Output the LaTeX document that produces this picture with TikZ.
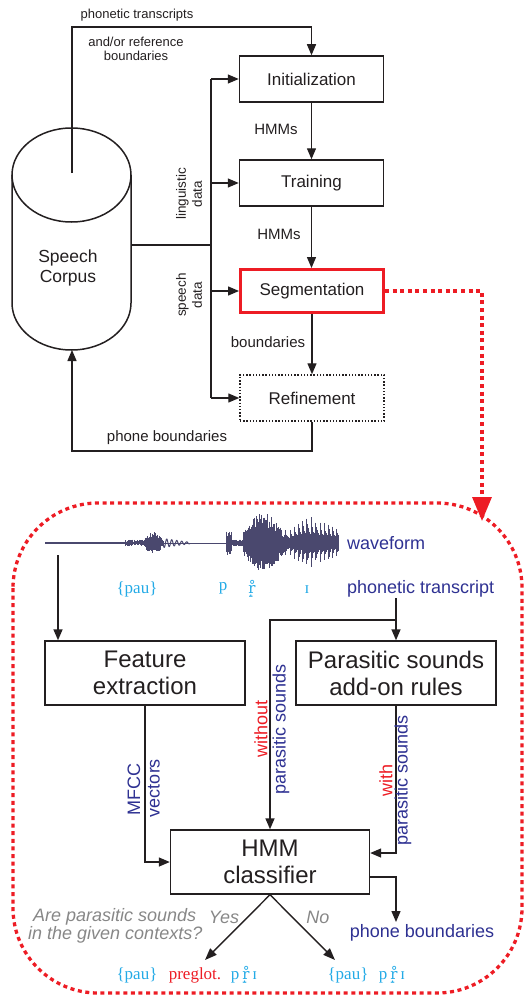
\documentclass[tikz,border=0pt]{standalone}
\usepackage{fontspec}
\setmainfont{Liberation Sans}
\newfontfamily\serfont{Liberation Serif}
\newfontfamily\ipafont{DejaVu Serif}
\usetikzlibrary{arrows.meta,calc}
\definecolor{ink}{RGB}{35,31,32}
\definecolor{tblue}{RGB}{46,49,146}
\definecolor{tred}{RGB}{237,28,36}
\definecolor{tcyan}{RGB}{35,170,230}
\definecolor{tgray}{RGB}{135,135,135}
\definecolor{wfc}{RGB}{74,72,110}
\tikzset{
  box/.style={draw=ink, line width=1.5pt, minimum width=144pt, minimum height=46pt, inner sep=0pt, font=\fontsize{17}{20}\selectfont, text=ink},
  bigbox/.style={draw=ink, line width=1.4pt, minimum width=200pt, minimum height=64pt, inner sep=0pt, align=center, font=\fontsize{24}{27}\selectfont, text=ink},
  ln/.style={draw=ink, line width=1.4pt},
  arr/.style={draw=ink, line width=1.4pt, -{Triangle[length=11pt,width=9pt]}},
  darr/.style={draw=ink, line width=1.4pt, -{Triangle[length=12pt,width=9pt]}},
  reddot/.style={draw=tred, line width=3.3pt, dash pattern=on 4pt off 3.6pt},
  sA/.style={font=\fontsize{13}{14}\selectfont, text=ink, inner sep=0pt, align=center},
  sB/.style={font=\fontsize{15}{17}\selectfont, text=ink, inner sep=0pt, align=center},
  sC/.style={font=\fontsize{17.5}{20}\selectfont, text=ink, inner sep=0pt, align=center},
  bl/.style={font=\fontsize{18}{20}\selectfont, text=tblue, inner sep=0pt},
  rl/.style={font=\fontsize{18}{20}\selectfont, text=tred, inner sep=0pt},
  gl/.style={font=\fontsize{18}{20}\selectfont\itshape, text=tgray, inner sep=0pt},
  ph/.style={font=\serfont\fontsize{17}{20}\selectfont, text=tcyan, inner sep=0pt},
  wf/.style={draw=wfc, line width=0.7pt}
}
\newcommand{\rsym}{{\ipafont\fontsize{15}{18}\selectfont r̝̊}}
\begin{document}
\begin{tikzpicture}[x=1pt,y=-1pt]
\useasboundingbox (0,0) rectangle (530,998);

% ---------- top part ----------
\draw[ink, line width=1.5pt] (71.5,175) ellipse [x radius=59.5, y radius=47];
\draw[ink, line width=1.5pt] (12,175) -- (12,303) arc[start angle=180, end angle=0, x radius=59.5, y radius=47] -- (131,175);
\node[sC] (corpus) at (68,268) {Speech\\Corpus};
\coordinate (cyltop) at (72,173);
\coordinate (cylbot) at (72,350);
\coordinate (cylright) at (131,245);
\coordinate (tpc) at (72,27);
\coordinate (fb) at (72,451);

\node[box] (init) at (311.5,79) {Initialization};
\node[box] (train) at (311.5,183) {Training};
\node[box, draw=tred, line width=3pt, minimum width=143pt, minimum height=43pt] (segm) at (312,291) {Segmentation};
\node[box, dash pattern=on 1.4pt off 1.8pt] (refine) at (312,398) {Refinement};

\coordinate (busT) at (211,79);
\coordinate (busB) at (211,398);
\draw[ln] (busT) -- (busB);
\draw[ln] (cylright) -- (cylright -| busT);
\draw[arr] (busT) -- (init.west);
\draw[arr] (busT |- train.west) -- (train.west);
\draw[arr] (busT |- segm.west) -- (segm.west);
\draw[arr] (busB) -- (refine.west);

\draw[arr] (cyltop) -- (tpc) -| (init.north);
\draw[arr] (init.south) -- (train.north);
\draw[arr] (train.south) -- (train.south |- segm.north);
\draw[arr] (segm.south) -- (segm.south |- refine.north);
\draw[arr] (refine.south) |- (fb) -- (cylbot);

\node[sA] (lpt) at (137,15) {phonetic transcripts};
\node[sA] (lref) at (136,49) {and/or reference\\boundaries};
\node[sB] (lh1) at (276,129) {HMMs};
\node[sB] (lh2) at (279,234) {HMMs};
\node[sB] (lbd) at (268,342) {boundaries};
\node[sB] (lpb) at (167,438) {phone boundaries};
\node[sA, rotate=90, font=\fontsize{13.5}{16}\selectfont] (lling) at (189,194) {linguistic\\data};
\node[sA, rotate=90, font=\fontsize{13.5}{16}\selectfont] (lspd) at (189,295) {speech\\data};

% red dotted link
\coordinate (rc) at (482,291);
\coordinate (rend) at (482,521);
\draw[reddot, -{Triangle[length=24pt,width=19pt]}] (segm.east) -- (rc) -- (rend);

% ---------- bottom part ----------
\draw[reddot, rounded corners=85pt] (13,503) rectangle (522,993);

% waveform
\pgfmathsetseed{11}
\draw[wf, line width=0.8pt] (45,543) -- (338,543);
\draw[wf, line width=2.4pt] (45,543) -- (125,543);
\foreach \x in {125,125.6,...,143} {
  \pgfmathsetmacro\a{1+2.5*rnd}
  \pgfmathsetmacro\b{1+2.5*rnd}
  \draw[wf] (\x,543-\a) -- (\x,543+\b);
}
\foreach \x in {143,143.5,...,163} {
  \pgfmathsetmacro\e{3+8*sin((\x-143)*9)}
  \pgfmathsetmacro\a{\e*(0.5+0.5*rnd)}
  \pgfmathsetmacro\b{\e*(0.5+0.5*rnd)}
  \draw[wf] (\x,543-\a) -- (\x,543+\b);
}
\draw[wf, line width=1pt] plot[domain=163:190, samples=140] (\x,{543+(4.5-0.14*(\x-163))*sin((\x-163)*72)});
\foreach \x in {226,226.5,...,231} {
  \pgfmathsetmacro\a{5+8*rnd}
  \pgfmathsetmacro\b{5+8*rnd}
  \draw[wf] (\x,543-\a) -- (\x,543+\b);
}
\foreach \x in {231.5,232,...,243} {
  \pgfmathsetmacro\a{1.5+2*rnd}
  \pgfmathsetmacro\b{1.5+2*rnd}
  \draw[wf] (\x,543-\a) -- (\x,543+\b);
}
\foreach \x in {243,243.5,...,285} {
  \pgfmathsetmacro\e{8+22*sin((\x-241)*4.1)}
  \pgfmathsetmacro\a{\e*(0.5+0.5*rnd)}
  \pgfmathsetmacro\b{\e*(0.5+0.5*rnd)}
  \draw[wf] (\x,543-\a) -- (\x,543+\b);
}
\foreach \x in {285,285.6,...,338} {
  \pgfmathsetmacro\e{13+13*sin((\x-285)*3.4)}
  \pgfmathsetmacro\p{mod(\x-285,4.3)/4.3}
  \pgfmathsetmacro\a{\e*(0.3+0.7*exp(-3*\p))}
  \pgfmathsetmacro\b{\e*(0.3+0.7*exp(-3*\p))*(0.85+0.15*rnd)}
  \draw[wf, line width=0.6pt] (\x,543-\a) -- (\x,543+\b);
}

\node[bl, anchor=west] (lwave) at (347,543) {waveform};
\node[bl, anchor=west] (ptr) at (347,589) {phonetic transcript};
\node[ph] (ph1) at (137,589) {\{pau\}};
\node[ph] (ph2) at (223,588) {p};
\node[ph, text=tcyan] (ph3) at (252,589) {\rsym};
\node[ph] (ph4) at (307,590) {ɪ};

\node[bigbox] (feat) at (145,673) {Feature\\extraction};
\node[bigbox] (para) at (396,673) {Parasitic sounds\\add-on rules};
\node[bigbox, minimum width=199pt] (hmm) at (270,862) {HMM\\classifier};

\coordinate (wfs) at (58,555);
\coordinate (ptb) at (396,598);
\coordinate (br) at (396,620);
\coordinate (pbout) at (396,922);
\coordinate (yesend) at (205,960);
\coordinate (noend) at (335,960);

\draw[arr] (wfs) -- (wfs |- feat.north);
\draw[arr] (ptb) -- (para.north);
\draw[arr] (br) -| (hmm.north);
\draw[arr] (feat.south) |- (hmm.west);
\draw[arr] (para.south) |- ($(hmm.east)+(0,-9)$);
\draw[arr] ($(hmm.east)+(0,15)$) -| (pbout);
\draw[darr] (hmm.south) -- (yesend);
\draw[darr] (hmm.south) -- (noend);

\node[bl, rotate=90] (lmfcc) at (134,789) {MFCC};
\node[bl, rotate=90] (lvec) at (154,788) {vectors};
\node[rl, rotate=90] (lwo) at (261,729) {without};
\node[bl, rotate=90] (lps1) at (281,729) {parasitic sounds};
\node[rl, rotate=90] (lwi) at (386,780) {with};
\node[bl, rotate=90] (lps2) at (403,780) {parasitic sounds};

\node[gl, anchor=west] (q1) at (33,917) {Are parasitic sounds};
\node[gl, anchor=west] (q2) at (28,935) {in the given contexts?};
\node[gl] (qy) at (224,917) {Yes};
\node[gl] (qn) at (318,917) {No};
\node[bl] (lpbd) at (422,933) {phone boundaries};

\node[ph] (y1) at (137,975) {\{pau\}};
\node[ph, text=tred] (y2) at (195,975) {preglot.};
\node[ph] (y3) at (244,975) {p\,\rsym\,ɪ};
\node[ph] (n1) at (348,975) {\{pau\}};
\node[ph] (n2) at (392,975) {p\,\rsym\,ɪ};
\end{tikzpicture}
\end{document}
